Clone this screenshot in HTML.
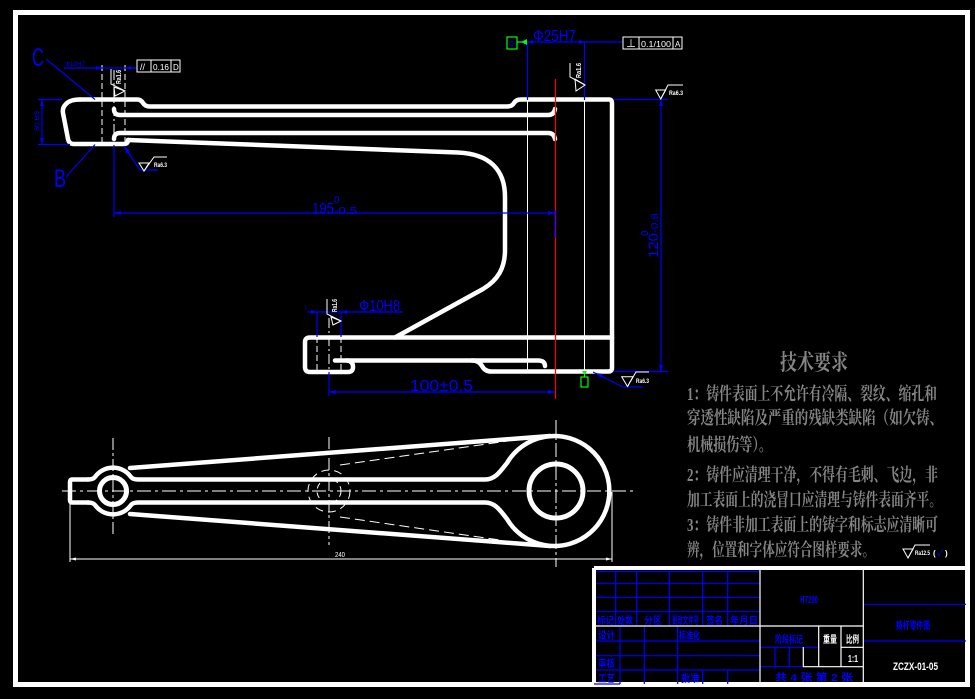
<!DOCTYPE html>
<html><head><meta charset="utf-8"><style>
html,body{margin:0;padding:0;background:#000;}
svg{display:block;}
</style></head><body>
<svg width="975" height="699" viewBox="0 0 975 699" xmlns="http://www.w3.org/2000/svg" font-family="'Liberation Sans','Noto Sans CJK SC',sans-serif">
<rect width="975" height="699" fill="#000"/>
<!-- outer border -->
<rect x="15.5" y="12.5" width="952" height="672" fill="none" stroke="#fff" stroke-width="5"/>

<!-- ============ FRONT VIEW ============ -->
<g fill="none" stroke="#fff" stroke-width="4.5" stroke-linecap="round" stroke-linejoin="round">
  <path d="M80,99.5 L137,99.5 Q141,99.5 143,103 Q145,106.5 150,106.5 L507,106.5 Q512,106.5 514,103 Q516,99.5 521,99.5 L609,99.5 Q612,99.5 612,103 L612,368 Q612,371.5 608,371.5 L491,371.5 Q485,371.5 482,366 Q479,360.5 472,360.5"/>
  <path d="M80,99.5 Q70,99.5 66,104 Q62,108 63,113 L68,139 Q69,144 74,144 L124,144 Q128,144 128,140"/>
  <path d="M128,140 L458,152.5 C490,154 505,170 505,197 L505,250 C505,268 498,280 483,289 L395,337.5"/>
  <path d="M114,109 Q114,115 120,115 L548,115 Q554,115 555,109"/>
  <path d="M114,139 Q114,133 120,133 L548,133 Q554,133 555,139"/>
  <path d="M612,337.5 L310,337.5 Q305,337.5 305,342 L305,367 Q305,372 310,372 L348,372 Q353,372 353,367 Q353,361 347,360.5"/>
  <path d="M335,360.5 L538,360.5 Q545,360.5 545,366"/>
</g>
<!-- thin lines -->
<g stroke="#fff" stroke-width="1" fill="none">
  <line x1="527.5" y1="100" x2="527.5" y2="372"/>
  <line x1="584.5" y1="100" x2="584.5" y2="372"/>
  <line x1="102" y1="65" x2="102" y2="143" stroke-dasharray="6 3"/>
  <line x1="125" y1="65" x2="125" y2="143" stroke-dasharray="6 3"/>
  <line x1="114" y1="70" x2="114" y2="145" stroke-dasharray="10 3 2 3"/>
  <line x1="317" y1="337" x2="317" y2="370" stroke-dasharray="6 3"/>
  <line x1="341" y1="337" x2="341" y2="370" stroke-dasharray="6 3"/>
  <line x1="329" y1="318" x2="329" y2="372" stroke-dasharray="10 3 2 3"/>
</g>
<line x1="555.5" y1="79" x2="555.5" y2="399" stroke="#f00" stroke-width="1.2"/>

<!-- blue dimensions front view -->
<g stroke="#00f" stroke-width="1.2" fill="none">
  <line x1="46" y1="59" x2="95" y2="99.5"/>
  <line x1="66" y1="177" x2="95" y2="144.5"/>
  <line x1="42" y1="99.5" x2="42" y2="144.5"/>
  <line x1="38" y1="99.5" x2="62" y2="99.5"/>
  <line x1="38" y1="144.5" x2="70" y2="144.5"/>
  <line x1="64" y1="68" x2="137" y2="68"/>
  <line x1="114" y1="145" x2="114" y2="217"/>
  <line x1="114" y1="213" x2="555" y2="213"/>
  <line x1="555" y1="210" x2="555" y2="238"/>
  <line x1="124" y1="146" x2="140" y2="170"/>
  <line x1="140" y1="170" x2="158" y2="170"/>
  <line x1="517" y1="42" x2="623" y2="42"/>
  <line x1="527.5" y1="42" x2="527.5" y2="100"/>
  <line x1="584.5" y1="42" x2="584.5" y2="100"/>
  <line x1="614" y1="99.5" x2="668" y2="99.5"/>
  <line x1="661" y1="100" x2="661" y2="371"/>
  <line x1="614" y1="371.5" x2="668" y2="371.5"/>
  <line x1="593" y1="372" x2="623" y2="387"/>
  <line x1="623" y1="387" x2="643" y2="387"/>
  <line x1="307" y1="312" x2="403" y2="312"/>
  <line x1="317" y1="312" x2="317" y2="337"/>
  <line x1="341" y1="312" x2="341" y2="337"/>
  <line x1="329" y1="372" x2="329" y2="396"/>
  <line x1="329" y1="392" x2="555" y2="392"/>
</g>
<g fill="#00f">
  <polygon points="114,213 121,211 121,215"/>
  <polygon points="555,213 548,211 548,215"/>
  <polygon points="42,100 40,106 44,106"/>
  <polygon points="42,144 40,138 44,138"/>
  <polygon points="102,68 96,66 96,70"/>
  <polygon points="125,68 131,66 131,70"/>
  <polygon points="125,147 126,154 130,151"/>
  <polygon points="527.5,42 533,40 533,44"/>
  <polygon points="584.5,42 579,40 579,44"/>
  <polygon points="661,100 659,106 663,106"/>
  <polygon points="661,371 659,365 663,365"/>
  <polygon points="596,373 603,374 601,378"/>
  <polygon points="317,312 311,310 311,314"/>
  <polygon points="341,312 347,310 347,314"/>
  <polygon points="329,392 336,390 336,394"/>
  <polygon points="555,392 548,390 548,394"/>
</g>
<g fill="#00f">
  <text x="32" y="66" font-size="25" textLength="12" lengthAdjust="spacingAndGlyphs">C</text>
  <text x="54" y="187" font-size="25" textLength="12" lengthAdjust="spacingAndGlyphs">B</text>
  <text transform="translate(39,131) rotate(-90)" font-size="6" textLength="20" lengthAdjust="spacingAndGlyphs">80 H8</text>
  <text x="65" y="66" font-size="6" textLength="20" lengthAdjust="spacingAndGlyphs">Φ12H7</text>
  <text x="312" y="213" font-size="15" textLength="22" lengthAdjust="spacingAndGlyphs">195</text>
  <text x="334" y="203" font-size="10">0</text>
  <text x="334" y="214" font-size="10" textLength="23" lengthAdjust="spacingAndGlyphs">-0.5</text>
  <text x="533" y="41" font-size="16" textLength="43" lengthAdjust="spacingAndGlyphs">Φ25H7</text>
  <text transform="translate(658,258) rotate(-90)" font-size="14" textLength="25" lengthAdjust="spacingAndGlyphs">120</text>
  <text transform="translate(658,233) rotate(-90)" font-size="10" textLength="20" lengthAdjust="spacingAndGlyphs">-0.8</text>
  <text transform="translate(648,236) rotate(-90)" font-size="10">0</text>
  <text x="359" y="311" font-size="16" textLength="41" lengthAdjust="spacingAndGlyphs">Φ10H8</text>
  <text x="305" y="310" font-size="6">I</text>
  <text x="410" y="391" font-size="16" textLength="63" lengthAdjust="spacingAndGlyphs">100±0.5</text>
  <text x="509" y="46" font-size="7">D</text>
</g>
<!-- tolerance frames -->
<g stroke="#fff" stroke-width="1" fill="none">
  <rect x="137" y="60" width="43" height="12"/>
  <line x1="151" y1="60" x2="151" y2="72"/>
  <line x1="171" y1="60" x2="171" y2="72"/>
  <rect x="623" y="37" width="59" height="12"/>
  <line x1="639" y1="37" x2="639" y2="49"/>
  <line x1="673" y1="37" x2="673" y2="49"/>
</g>
<g fill="#fff" font-size="8">
  <text x="140" y="70" font-size="9">//</text>
  <text x="153" y="70" textLength="16" lengthAdjust="spacingAndGlyphs">0.16</text>
  <text x="173" y="70">D</text>
  <text x="626" y="47" font-size="10">⊥</text>
  <text x="641" y="47" textLength="30" lengthAdjust="spacingAndGlyphs">0.1/100</text>
  <text x="675" y="47">A</text>
</g>
<!-- green markers -->
<rect x="507" y="37" width="10" height="12" fill="none" stroke="#0f0" stroke-width="1.2"/>
<line x1="517" y1="42" x2="522" y2="42" stroke="#0f0" stroke-width="1.2"/>
<polygon points="521,42 527,39 527,45" fill="#0f0"/>
<polygon points="582,371 587,371 584.5,375" fill="#0f0"/>
<line x1="584.5" y1="374" x2="584.5" y2="377" stroke="#0f0" stroke-width="1"/>
<rect x="581" y="377" width="7" height="10" fill="none" stroke="#0f0" stroke-width="1.2"/>

<!-- roughness symbols -->
<g stroke="#fff" stroke-width="1" fill="none">
  <polyline points="111,69 111,84 125,91"/>
  <polygon points="114,87 125,91 115,96"/>
  <polyline points="570,63 570,77 585,85"/>
  <polygon points="575,79 585,85 576,91"/>
  <polyline points="327,299 327,314 341,321"/>
  <polygon points="331,317 341,321 333,325"/>
  <polygon points="139,163 149,163 144,171"/>
  <polyline points="144,171 154,157 167,157"/>
  <polygon points="655.7,90 665.7,90 660.7,99"/>
  <polyline points="660.7,99 668,85 683,85"/>
  <polygon points="621.7,376.7 633,376.7 627.5,386.5"/>
  <polyline points="627.5,386.5 636,372 649,372"/>
  <polygon points="903,549 913,549 908,558"/>
  <polyline points="908,558 915,545 930,545"/>
</g>
<g fill="#fff" font-weight="bold" font-size="6">
  <text transform="translate(121,84) rotate(-90)" font-size="7" textLength="14" lengthAdjust="spacingAndGlyphs">Ra1.6</text>
  <text transform="translate(581,78) rotate(-90)" font-size="7" textLength="15" lengthAdjust="spacingAndGlyphs">Ra1.6</text>
  <text transform="translate(337,312) rotate(-90)" font-size="7" textLength="13" lengthAdjust="spacingAndGlyphs">Ra1.6</text>
  <text x="154" y="167" textLength="13" lengthAdjust="spacingAndGlyphs">Ra6.3</text>
  <text x="669" y="95" textLength="14" lengthAdjust="spacingAndGlyphs">Ra6.3</text>
  <text x="636" y="383" textLength="13" lengthAdjust="spacingAndGlyphs">Ra6.3</text>
  <text x="915" y="555" textLength="15" lengthAdjust="spacingAndGlyphs">Ra12.5</text>
  <text x="933" y="556" font-size="8">(</text>
  <text x="945" y="556" font-size="8">)</text>
</g>
<text x="937" y="556" font-size="9" fill="#00f">✓</text>

<!-- ============ BOTTOM (PLAN) VIEW ============ -->
<g fill="none" stroke="#fff" stroke-width="4.5" stroke-linecap="round" stroke-linejoin="round">
  <path d="M88,479.5 L72,479.5 Q70,479.5 70,482 L70,500 Q70,502.5 72,502.5 L88,502.5"/>
  <path d="M88,479.5 Q93,479.5 95,477 A22 22 0 0 1 131,477 Q133,479.5 138,479.5 L485,479.5 C495,479.5 500,472 507,463 A55 55 0 1 1 507,519 C500,510 495,502.5 485,502.5 L138,502.5 Q133,502.5 131,505 A22 22 0 0 1 95,505 Q93,502.5 88,502.5"/>
  <line x1="130" y1="468" x2="550" y2="436"/>
  <line x1="130" y1="514" x2="550" y2="546"/>
  <circle cx="113" cy="491" r="13.5" stroke-width="5"/>
  <circle cx="556" cy="491" r="27" stroke-width="5"/>
</g>
<g fill="none" stroke="#fff" stroke-width="1">
  <line x1="340" y1="465" x2="508" y2="441" stroke-dasharray="10 5"/>
  <line x1="340" y1="517" x2="500" y2="540" stroke-dasharray="10 5"/>
  <circle cx="329" cy="491" r="21" stroke-dasharray="8 5"/>
  <circle cx="329" cy="491" r="12" stroke-dasharray="6 4"/>
  <line x1="62" y1="491" x2="635" y2="491" stroke-dasharray="14 4 3 4"/>
  <line x1="113" y1="438" x2="113" y2="535" stroke-dasharray="12 3 3 3"/>
  <line x1="329" y1="437" x2="329" y2="545" stroke-dasharray="12 3 3 3"/>
  <line x1="556" y1="420" x2="556" y2="567" stroke-dasharray="14 3 3 3"/>
  <line x1="70" y1="504" x2="70" y2="562"/>
  <line x1="612" y1="492" x2="612" y2="562"/>
  <line x1="70" y1="559" x2="612" y2="559"/>
</g>
<polygon points="70,559 76,557.5 76,560.5" fill="#fff"/>
<polygon points="612,559 606,557.5 606,560.5" fill="#fff"/>
<text x="335" y="557" font-size="7" fill="#fff" textLength="10" lengthAdjust="spacingAndGlyphs">240</text>

<!-- ============ TECH REQUIREMENTS ============ -->
<g fill="#858585" font-weight="bold" font-family="'Liberation Serif','Noto Serif CJK SC','Noto Sans CJK SC',serif">
  <text x="780" y="370" font-size="22" textLength="68" lengthAdjust="spacingAndGlyphs">技术要求</text>
  <text x="687" y="400" font-size="18" textLength="250" lengthAdjust="spacingAndGlyphs">1：铸件表面上不允许有冷隔、裂纹、缩孔和</text>
  <text x="687" y="424" font-size="18" textLength="256" lengthAdjust="spacingAndGlyphs">穿透性缺陷及严重的残缺类缺陷（如欠铸、</text>
  <text x="687" y="451" font-size="18" textLength="85" lengthAdjust="spacingAndGlyphs">机械损伤等）。</text>
  <text x="687" y="481" font-size="18" textLength="251" lengthAdjust="spacingAndGlyphs">2：铸件应清理干净，不得有毛刺、飞边，非</text>
  <text x="687" y="506" font-size="18" textLength="255" lengthAdjust="spacingAndGlyphs">加工表面上的浇冒口应清理与铸件表面齐平。</text>
  <text x="687" y="531" font-size="18" textLength="251" lengthAdjust="spacingAndGlyphs">3：铸件非加工表面上的铸字和标志应清晰可</text>
  <text x="687" y="556" font-size="18" textLength="188" lengthAdjust="spacingAndGlyphs">辨，位置和字体应符合图样要求。</text>
</g>

<!-- ============ TITLE BLOCK ============ -->
<g stroke="#fff" stroke-width="4">
  <line x1="594" y1="568" x2="967" y2="568"/>
  <line x1="594" y1="568" x2="594" y2="684"/>
</g>
<g stroke="#00f" stroke-width="1.2">
  <line x1="596" y1="571.5" x2="760" y2="571.5"/>
  <line x1="596" y1="583.3" x2="760" y2="583.3"/>
  <line x1="596" y1="597.3" x2="760" y2="597.3"/>
  <line x1="596" y1="611.7" x2="760" y2="611.7"/>
  <line x1="615.7" y1="571" x2="615.7" y2="626"/>
  <line x1="636.7" y1="571" x2="636.7" y2="626"/>
  <line x1="669.3" y1="571" x2="669.3" y2="626"/>
  <line x1="702.7" y1="571" x2="702.7" y2="626"/>
  <line x1="727.7" y1="571" x2="727.7" y2="626"/>
  <line x1="620" y1="626" x2="620" y2="684"/>
  <line x1="644.3" y1="626" x2="644.3" y2="684"/>
  <line x1="677.7" y1="626" x2="677.7" y2="684"/>
  <line x1="596" y1="641" x2="760" y2="641"/>
  <line x1="596" y1="655.7" x2="760" y2="655.7"/>
  <line x1="596" y1="670" x2="760" y2="670"/>
  <line x1="702.7" y1="670" x2="702.7" y2="684"/>
  <line x1="727.7" y1="670" x2="727.7" y2="684"/>
  <line x1="760" y1="647.3" x2="818.7" y2="647.3"/>
  <line x1="760" y1="666.7" x2="803" y2="666.7"/>
  <line x1="775" y1="647" x2="775" y2="667"/>
  <line x1="789.3" y1="647" x2="789.3" y2="667"/>
  <line x1="863" y1="604.3" x2="966" y2="604.3"/>
  <line x1="863" y1="641" x2="966" y2="641"/>
</g>
<g stroke="#fff" stroke-width="1.2">
  <line x1="760" y1="570" x2="760" y2="684"/>
  <line x1="863.3" y1="570" x2="863.3" y2="684"/>
  <line x1="596" y1="626" x2="863" y2="626"/>
  <line x1="818.7" y1="626" x2="818.7" y2="667"/>
  <line x1="841" y1="626" x2="841" y2="667"/>
  <line x1="841" y1="647.3" x2="863" y2="647.3"/>
  <line x1="803" y1="666.7" x2="863" y2="666.7"/>
  <line x1="803.3" y1="647" x2="803.3" y2="667"/>
</g>
<g fill="#00f" font-size="10" font-weight="bold">
  <text x="597" y="624" textLength="17" lengthAdjust="spacingAndGlyphs">标记</text>
  <text x="617" y="624" textLength="16" lengthAdjust="spacingAndGlyphs">处数</text>
  <text x="644" y="624" textLength="18" lengthAdjust="spacingAndGlyphs">分区</text>
  <text x="672" y="624" textLength="27" lengthAdjust="spacingAndGlyphs">更改文件号</text>
  <text x="706" y="624" textLength="17" lengthAdjust="spacingAndGlyphs">签名</text>
  <text x="730" y="624" textLength="28" lengthAdjust="spacingAndGlyphs">年月日</text>
  <text x="598" y="639" textLength="17" lengthAdjust="spacingAndGlyphs">设计</text>
  <text x="679" y="639" textLength="21" lengthAdjust="spacingAndGlyphs">标准化</text>
  <text x="598" y="667" textLength="17" lengthAdjust="spacingAndGlyphs">审核</text>
  <text x="598" y="682" textLength="17" lengthAdjust="spacingAndGlyphs">工艺</text>
  <text x="681" y="682" textLength="19" lengthAdjust="spacingAndGlyphs">批准</text>
  <text x="800" y="603" textLength="18" lengthAdjust="spacingAndGlyphs">HT200</text>
  <text x="775" y="643" textLength="28" lengthAdjust="spacingAndGlyphs">阶段标记</text>
  <text x="775" y="681" textLength="78" lengthAdjust="spacingAndGlyphs">共 4 张  第 2 张</text>
  <text x="896" y="629" textLength="34" lengthAdjust="spacingAndGlyphs">拨杆零件图</text>
</g>
<line x1="594" y1="684" x2="620" y2="684" stroke="#00f" stroke-width="1.2"/>
<g fill="#fff" font-size="10" font-weight="bold">
  <text x="823" y="643" textLength="14" lengthAdjust="spacingAndGlyphs">重量</text>
  <text x="846" y="643" textLength="13" lengthAdjust="spacingAndGlyphs">比例</text>
  <text x="848" y="662" textLength="10" lengthAdjust="spacingAndGlyphs">1:1</text>
  <text x="893" y="670" font-size="11" textLength="45" lengthAdjust="spacingAndGlyphs">ZCZX-01-05</text>
</g>
</svg>
</body></html>
